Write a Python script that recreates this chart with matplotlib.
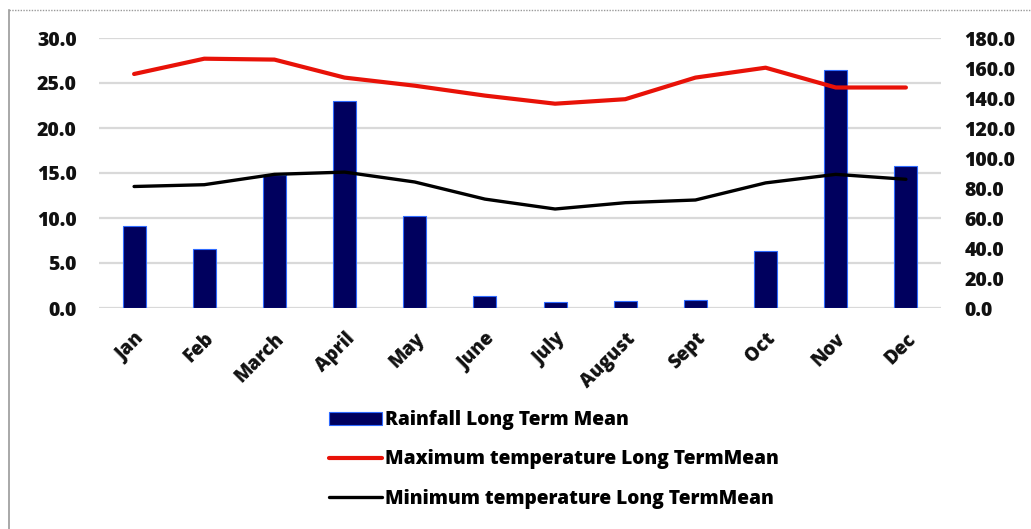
import matplotlib
matplotlib.use("Agg")
import matplotlib.pyplot as plt
from matplotlib.lines import Line2D
import numpy as np

# monthly long term means
months = ["Jan", "Feb", "March", "April", "May", "June", "July", "August",
          "Sept", "Oct", "Nov", "Dec"]
rainfall = [55.0, 39.3, 89.0, 138.0, 61.3, 8.2, 4.2, 4.7, 5.3, 38.0, 158.7, 94.7]
max_temp = [26.0, 27.7, 27.6, 25.6, 24.7, 23.6, 22.7, 23.2, 25.6, 26.7, 24.5, 24.5]
min_temp = [13.5, 13.7, 14.85, 15.1, 14.0, 12.1, 11.0, 11.7, 12.0, 13.9, 14.85, 14.3]

temp_ticks = [0, 5, 10, 15, 20, 25, 30]
rain_ticks = [0, 20, 40, 60, 80, 100, 120, 140, 160, 180]

plt.rcParams['font.family'] = ['Open Sans', 'DejaVu Sans']
plt.rcParams['font.weight'] = 800

fig = plt.figure(figsize=(10.31, 5.29), dpi=100)
ax = fig.add_axes([99/1031, 1 - 308/529, 842/1031, 270/529])
x = np.arange(len(months))

# left axis: temperature scale + gridlines
ax.set_ylim(0, 30)
ax.set_yticks(temp_ticks)
ax.set_yticklabels([f"{t:.1f}" for t in temp_ticks])
ax.grid(axis='y', color='#d9d9d9', lw=1.6)
ax.set_xlim(-0.5, len(months) - 0.5)
ax.set_xticks(x)
ax.set_xticklabels(months, rotation=45, ha='right', rotation_mode='anchor')

# right axis: rainfall bars
ax2 = ax.twinx()
ax2.bar(x, rainfall, width=0.33, color='#00005e', edgecolor='#2f6bff', lw=0.8,
        label='Rainfall Long Term Mean')
ax2.set_ylim(0, 180)
ax2.set_yticks(rain_ticks)
ax2.set_yticklabels([f"{t:.1f}" for t in rain_ticks])

# temperature lines on top of the bars
ax3 = ax.twinx()
ax3.set_ylim(0, 30)
ax3.plot(x, max_temp, color='#e81208', lw=3.0, solid_capstyle='round',
         label='Maximum temperature Long TermMean')
ax3.plot(x, min_temp, color='#000000', lw=2.4, solid_capstyle='round',
         label='Minimum temperature Long TermMean')
ax3.set_yticks([])

for a in (ax, ax2, ax3):
    for s in a.spines.values():
        s.set_visible(False)
    a.tick_params(length=0, labelsize=14, colors='#111111')
ax.tick_params(axis='y', pad=16)
ax.tick_params(axis='x', pad=15, labelsize=13.5)
ax2.tick_params(axis='y', pad=17)

handles = ax2.get_legend_handles_labels()[0] + ax3.get_legend_handles_labels()[0]
labels = ax2.get_legend_handles_labels()[1] + ax3.get_legend_handles_labels()[1]
fig.legend(handles, labels, loc='upper left', bbox_to_anchor=(312/1031, 1 - 393/529),
           frameon=False, fontsize=13.8, handlelength=2.75, handleheight=0.6,
           labelspacing=1.0, handletextpad=0.15)

# outer frame
fig.add_artist(Line2D([9/1031, 9/1031], [0, 1 - 10/529], color='#9a9a9a', lw=1.2))
fig.add_artist(Line2D([9/1031, 1], [1 - 10/529, 1 - 10/529], color='#9a9a9a',
                      lw=1.0, ls=(0, (1, 1))))

fig.savefig("out.png", dpi=100)
